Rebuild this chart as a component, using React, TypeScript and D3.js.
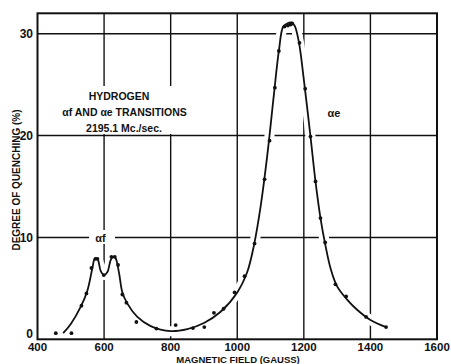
import React from "react";
import * as d3 from "d3";

const W = 451;
const H = 364;

const xTicks = [400, 600, 800, 1000, 1200, 1400, 1600];
const yTicks = [0, 10, 20, 30];
const xGrid = [600, 800, 1000, 1200, 1400];
const yGrid = [10, 20, 30];

// measured points (gauss, % quenching)
const pointField = [455, 502, 532, 547, 562, 574, 580, 599, 622, 632, 642, 655, 667, 697, 757, 815, 867, 901, 930, 959, 992, 1022, 1052, 1082, 1097, 1113, 1125, 1142, 1152, 1160, 1165, 1187, 1204, 1220, 1235, 1250, 1264, 1295, 1327, 1387, 1447];
const pointValue = [0.6, 0.6, 3.3, 4.5, 7.0, 7.9, 7.9, 6.3, 8.1, 8.1, 7.3, 4.4, 3.6, 1.7, 1.05, 1.4, 1.1, 1.2, 2.6, 3.0, 4.6, 6.2, 9.4, 15.7, 19.5, 24.7, 28.3, 30.7, 30.8, 30.9, 31.0, 29.1, 24.6, 19.9, 15.5, 11.9, 9.5, 5.4, 4.2, 2.2, 1.2];

// fitted curve
const curveField = [477, 500, 530, 550, 565, 572, 580, 590, 600, 610, 620, 627, 634, 645, 655, 670, 700, 740, 800, 850, 900, 950, 1000, 1030, 1050, 1070, 1090, 1110, 1125, 1138, 1150, 1162, 1172, 1185, 1200, 1220, 1235, 1250, 1265, 1280, 1300, 1330, 1360, 1400, 1447];
const curveValue = [0.6, 1.5, 3.2, 4.8, 7.0, 7.9, 7.9, 6.7, 6.3, 6.6, 7.8, 8.1, 8.0, 6.5, 4.6, 3.5, 2.2, 1.3, 0.8, 1.0, 1.6, 2.7, 4.6, 6.6, 9.2, 13.0, 18.0, 24.0, 28.3, 30.7, 31.0, 31.1, 30.8, 29.2, 25.5, 19.9, 15.5, 11.9, 9.2, 7.0, 5.2, 3.9, 2.9, 1.9, 1.2];

const FONT = "'Liberation Sans', Arial, sans-serif";
const INK = "#111";

export default function App() {
  const x = d3.scaleLinear().domain([400, 1600]).range([37.5, 437]);
  const y = d3.scaleLinear().domain([0, 32]).range([339.3, 13.3]);

  const line = d3
    .line<number>()
    .x((_, i) => x(curveField[i]))
    .y((v) => y(v))
    .curve(d3.curveCatmullRom.alpha(0.5));
  const path = line(curveValue) || "";

  const [x0, x1] = x.range();
  const [yb, yt] = y.range();

  return (
    <svg
      width={W}
      height={H}
      style={{ position: "absolute", left: 0, top: 0, background: "#fff" }}
      fontFamily={FONT}
    >
      <rect x={0} y={0} width={W} height={H} fill="#fff" />
      {/* grid */}
      {xGrid.map((g) => (
        <line key={"gx" + g} x1={x(g)} x2={x(g)} y1={yt} y2={yb} stroke={INK} strokeWidth={1.4} />
      ))}
      {yGrid.map((g) => (
        <line key={"gy" + g} x1={x0} x2={x1} y1={y(g)} y2={y(g)} stroke={INK} strokeWidth={1.4} />
      ))}
      {/* gap in 1200 gridline near peak */}
      <rect x={x(1200) - 3} y={y(28.3)} width={6} height={y(25) - y(28.3)} fill="#fff" />
      {/* label backgrounds */}
      <rect x={48} y={86} width={154} height={48} fill="#fff" />
      <rect x={89} y={230} width={26} height={14} fill="#fff" />
      {/* curve halo */}
      <path d={path} fill="none" stroke="#fff" strokeWidth={10} />
      <path d={path} fill="none" stroke={INK} strokeWidth={1.8} />
      {pointField.map((f, i) => (
        <circle key={"p" + i} cx={x(f)} cy={y(pointValue[i])} r={1.9} fill={INK} />
      ))}
      {/* frame */}
      <rect x={x0} y={yt} width={x1 - x0} height={yb - yt} fill="none" stroke={INK} strokeWidth={2} />
      {/* tick labels */}
      {yTicks.map((t) => (
        <text
          key={"yt" + t}
          x={33}
          y={t === 0 ? y(t) - 1.5 : y(t) + 4.5}
          textAnchor="end"
          fontSize={12}
          fontWeight="bold"
          fill={INK}
        >
          {t}
        </text>
      ))}
      {xTicks.map((t) => (
        <text
          key={"xt" + t}
          x={x(t)}
          y={351}
          textAnchor="middle"
          fontSize={11.5}
          fontWeight="bold"
          fill={INK}
        >
          {t}
        </text>
      ))}
      <text x={238} y={363} textAnchor="middle" fontSize={9.5} fontWeight="bold" fill={INK}>
        MAGNETIC FIELD (GAUSS)
      </text>
      <text
        transform="translate(20,180) rotate(-90)"
        textAnchor="middle"
        fontSize={10}
        fontWeight="bold"
        fill={INK}
      >
        DEGREE OF QUENCHING (%)
      </text>
      {/* annotations */}
      <text x={119} y={100} textAnchor="middle" fontSize={10.5} fontWeight="bold" fill={INK}>
        HYDROGEN
      </text>
      <text x={124.5} y={116} textAnchor="middle" fontSize={10.5} fontWeight="bold" fill={INK}>
        αf AND αe TRANSITIONS
      </text>
      <text x={124} y={132} textAnchor="middle" fontSize={10.5} fontWeight="bold" fill={INK}>
        2195.1 Mc./sec.
      </text>
      <text x={100.5} y={241.5} textAnchor="middle" fontSize={11} fontWeight="bold" fill={INK}>
        αf
      </text>
      <text x={334} y={117} textAnchor="middle" fontSize={11} fontWeight="bold" fill={INK}>
        αe
      </text>
    </svg>
  );
}
